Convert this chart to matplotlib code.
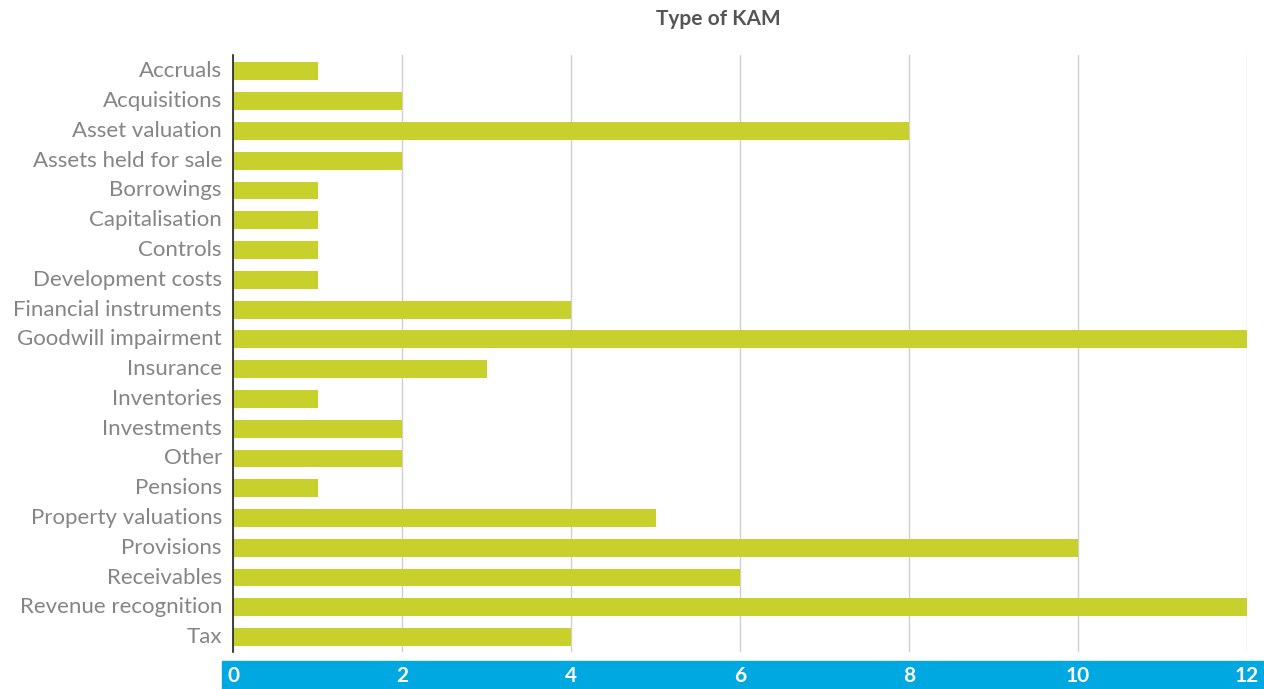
import matplotlib
matplotlib.use('Agg')
import matplotlib.pyplot as plt
import matplotlib.transforms as mtransforms
from matplotlib.patches import Rectangle

# data
categories = ['Accruals', 'Acquisitions', 'Asset valuation', 'Assets held for sale',
              'Borrowings', 'Capitalisation', 'Controls', 'Development costs',
              'Financial instruments', 'Goodwill impairment', 'Insurance', 'Inventories',
              'Investments', 'Other', 'Pensions', 'Property valuations', 'Provisions',
              'Receivables', 'Revenue recognition', 'Tax']
counts = [1, 2, 8, 2, 1, 1, 1, 1, 4, 12, 3, 1, 2, 2, 1, 5, 10, 6, 12, 4]
x_ticks = [0, 2, 4, 6, 8, 10, 12]

plt.rcParams['font.family'] = ['Lato', 'DejaVu Sans']

BAR = '#C8D02C'
BLUE = '#00A8E1'
TXT = '#858585'

fig = plt.figure(figsize=(12.64, 6.89), dpi=100)
ax = fig.add_axes([233/1264, 1 - 652/689, (1247 - 233)/1264, (652 - 55)/689])

y = list(range(len(categories)))
ax.barh(y, counts, height=0.6, color=BAR, zorder=2)

ax.set_xlim(0, 12)
ax.set_ylim(19.5, -0.55)
ax.set_yticks(y)
ax.set_yticklabels(categories, fontsize=16, color=TXT)
ax.tick_params(axis='y', length=0, pad=8)
# labels sit a touch above the bar centres in the original
nudge = mtransforms.ScaledTranslation(0, 2/100, fig.dpi_scale_trans)
for lbl in ax.get_yticklabels():
    lbl.set_transform(lbl.get_transform() + nudge)
ax.set_xticks(x_ticks)
ax.tick_params(axis='x', length=0, labelbottom=False)
ax.grid(axis='x', color='#D0D0D0', linewidth=1, zorder=3)
for s in ['top', 'right', 'bottom']:
    ax.spines[s].set_visible(False)
ax.spines['left'].set_color('#222222')
ax.spines['left'].set_linewidth(1.2)
ax.spines['left'].set_zorder(4)

# blue band with x tick labels
band = Rectangle((222/1264, 0), 1 - 222/1264, 28/689,
                 transform=fig.transFigure, color=BLUE, zorder=-1)
fig.patches.append(band)
trans = mtransforms.blended_transform_factory(ax.transData, fig.transFigure)
for t in x_ticks:
    ax.text(t, 13/689, str(t), transform=trans, ha='center', va='center',
            fontsize=15, fontweight='bold', color='white', clip_on=False, zorder=5)

fig.text(718/1264, 1 - 19/689, 'Type of KAM', ha='center', va='center',
         fontsize=15, fontweight='bold', color='#555555')

fig.savefig('out.png', dpi=100)
